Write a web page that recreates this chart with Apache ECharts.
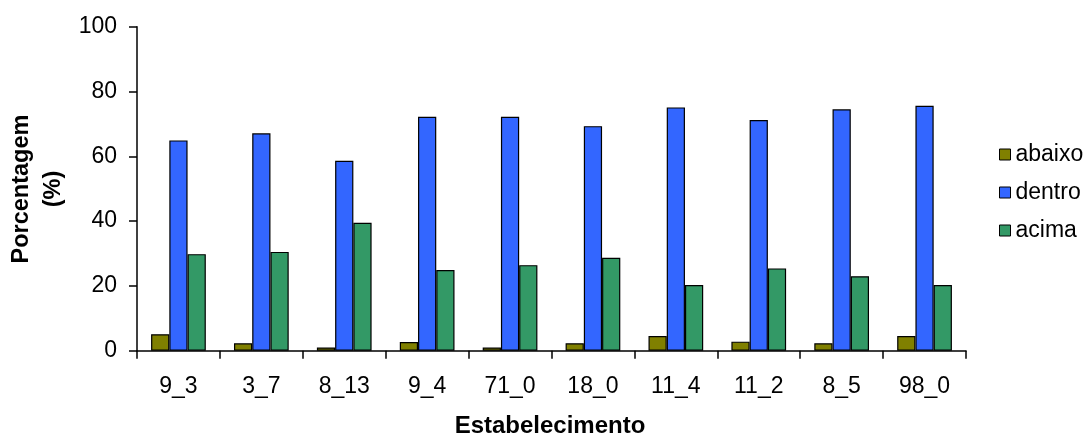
<!DOCTYPE html>
<html>
<head>
<meta charset="utf-8">
<script src="https://cdn.jsdelivr.net/npm/echarts@6/dist/echarts.min.js"></script>
<style>
html,body{margin:0;padding:0;background:#fff;}
#chart{width:1087px;height:437px;}
</style>
</head>
<body>
<div id="chart"></div>
<script>
const categories = ['9_3','3_7','8_13','9_4','71_0','18_0','11_4','11_2','8_5','98_0'];
const abaixo = [5.1, 2.3, 1.0, 2.7, 1.0, 2.3, 4.5, 2.8, 2.3, 4.5];
const dentro = [64.9, 67.1, 58.6, 72.2, 72.2, 69.3, 75.1, 71.2, 74.5, 75.6];
const acima = [29.8, 30.5, 39.5, 24.9, 26.4, 28.7, 20.3, 25.4, 23.0, 20.3];
const yTicks = [0, 20, 40, 60, 80, 100];

const FONT = '"Liberation Sans", Arial, sans-serif';
const chart = echarts.init(document.getElementById('chart'), null, {renderer: 'canvas'});

function barSeries(name, data, color) {
  return {
    name: name,
    type: 'bar',
    data: data,
    barGap: '0%',
    barCategoryGap: '34%',
    itemStyle: {color: color, borderColor: '#000', borderWidth: 1.2},
    emphasis: {disabled: true},
    animation: false
  };
}

chart.setOption({
  animation: false,
  textStyle: {fontFamily: FONT},
  grid: {left: 137, right: 121, top: 26.7, bottom: 86.3, containLabel: false},
  legend: {
    orient: 'vertical',
    left: 994,
    top: 138,
    icon: 'rect',
    itemWidth: 11,
    itemHeight: 11,
    itemGap: 15,
    itemStyle: {borderColor: '#000', borderWidth: 1},
    textStyle: {fontFamily: FONT, fontSize: 23, color: '#000', lineHeight: 23, padding: [0, 0, 0, 0]},
    data: ['abaixo', 'dentro', 'acima']
  },
  xAxis: {
    type: 'category',
    data: categories,
    axisLine: {lineStyle: {color: '#000', width: 1.5}},
    axisTick: {show: true, inside: false, length: 8, lineStyle: {color: '#000', width: 1.5}},
    axisLabel: {color: '#000', fontSize: 23, fontFamily: FONT, margin: 24},
    splitLine: {show: false}
  },
  yAxis: {
    type: 'value',
    min: yTicks[0],
    max: yTicks[yTicks.length - 1],
    interval: 20,
    axisLine: {show: true, lineStyle: {color: '#000', width: 1.5}},
    axisTick: {show: true, inside: false, length: 8, lineStyle: {color: '#000', width: 1.5}},
    axisLabel: {color: '#000', fontSize: 23, fontFamily: FONT, margin: 20},
    splitLine: {show: false}
  },
  graphic: [
    {
      type: 'text',
      x: 38, y: 189,
      rotation: Math.PI / 2,
      style: {
        text: 'Porcentagem\n(%)',
        fill: '#000',
        font: 'bold 23.5px ' + FONT,
        align: 'center',
        verticalAlign: 'middle',
        lineHeight: 32
      }
    },
    {
      type: 'text',
      x: 550, y: 426,
      style: {
        text: 'Estabelecimento',
        fill: '#000',
        font: 'bold 24px ' + FONT,
        align: 'center',
        verticalAlign: 'middle'
      }
    }
  ],
  series: [
    barSeries('abaixo', abaixo, '#808000'),
    barSeries('dentro', dentro, '#3366FF'),
    barSeries('acima', acima, '#339966')
  ]
});
</script>
</body>
</html>
